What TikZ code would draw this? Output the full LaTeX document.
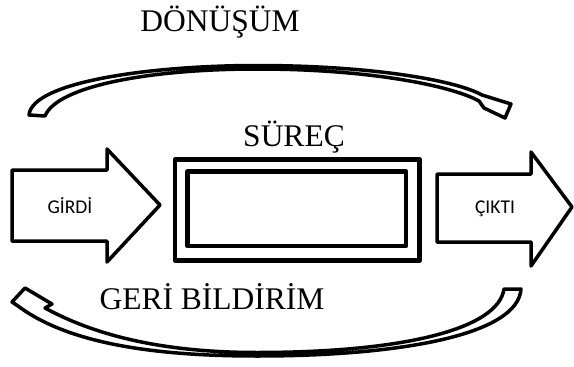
\documentclass[tikz,border=0pt]{standalone}
\usepackage{fontspec}
\setmainfont{Liberation Serif}
\newfontfamily\arrowfont{Carlito}

\begin{document}
\begin{tikzpicture}[x=1pt, y=-1pt, line join=round]
\tikzstyle{every node} = [inner sep=0pt]
\tikzstyle{bigtext} = [anchor=base, font=\fontsize{31.5}{36}\selectfont]
\tikzstyle{tag} = [font=\arrowfont\fontsize{19.5}{22}\selectfont]
\tikzstyle{blockline} = [line width=3.5pt, fill=white]
\tikzstyle{frame} = [draw, line width=4.5pt]
\useasboundingbox (0,0) rectangle (574,367);

% process box
\node[frame, minimum width=244.5pt, minimum height=101pt] (outer) at (297.25,210) {};
\node[frame, minimum width=218.5pt, minimum height=74.5pt] (inner) at (296.75,208.75) {};

% input and output
\draw[blockline] (12,170) -- (107,170) -- (107,149) -- (160,205) -- (107,262) -- (107,241) -- (12,241) -- cycle;
\draw[blockline] (437,174) -- (531,174) -- (531,152) -- (572,207) -- (531,266) -- (531,242) -- (437,242) -- cycle;
\node[tag] (in) at (70,206) {GİRDİ};
\node[tag] (out) at (495,209) {ÇIKTI};

% curved arrows
\draw[blockline] (29,115) .. controls (32,82) and (150,65.5) .. (257,65.5) .. controls (370,65.5) and (455,80) .. (482,95)
  -- (511,104) -- (505,118) -- (484,108) -- (479,101)
  .. controls (452,86) and (370,69) .. (257,69) .. controls (150,69) and (57,86) .. (45,116) -- cycle;
\draw[blockline] (12,302) -- (25,288) -- (52,304) -- (45,308)
  .. controls (100,338) and (170,352.5) .. (257,352.5) .. controls (400,352.5) and (498,330) .. (504,289)
  -- (521,289) .. controls (518,335) and (400,356) .. (257,356) .. controls (160,356) and (70,345) .. (18,306) -- cycle;

% titles
\node[bigtext] (trans) at (220,31) {DÖNÜŞÜM};
\node[bigtext] (proc) at (294,146) {SÜREÇ};
\node[bigtext] (back) at (212,309) {GERİ BİLDİRİM};
\end{tikzpicture}
\end{document}
